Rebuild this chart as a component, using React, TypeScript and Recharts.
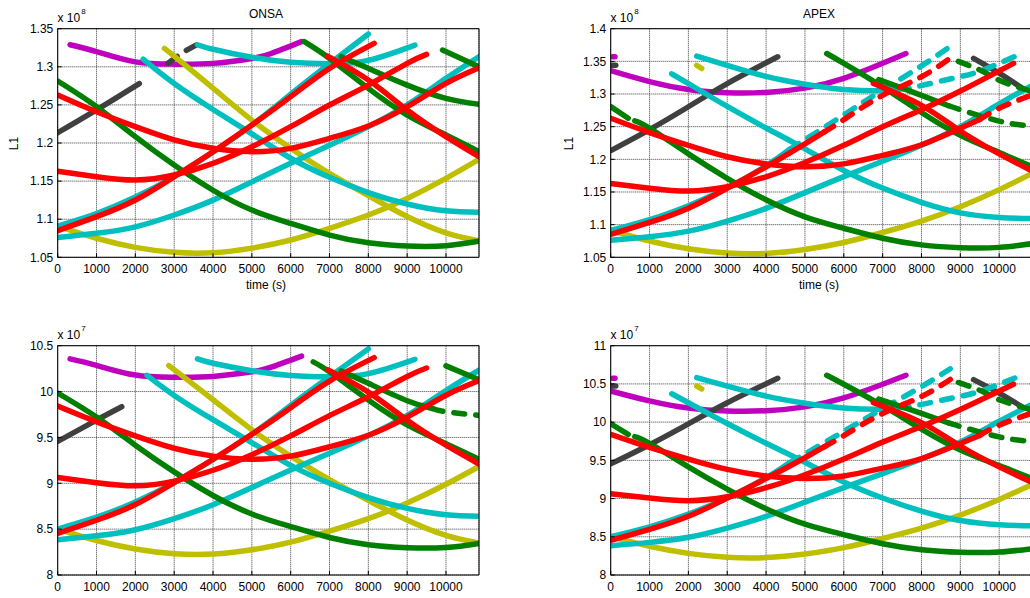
import React from "react"
import { CartesianGrid, Line, LineChart, XAxis, YAxis } from "recharts"

type Pt = [number, number]

const MAGENTA = "#bf00bf"
const GRAY = "#404040"
const CYAN = "#00bfbf"
const YELLOW = "#bfbf00"
const GREEN = "#007f00"
const RED = "#ff0000"

const timeTicks = [0, 1000, 2000, 3000, 4000, 5000, 6000, 7000, 8000, 9000, 10000]
const onsaL1Ticks = [1.05, 1.1, 1.15, 1.2, 1.25, 1.3, 1.35]
const apexL1Ticks = [1.05, 1.1, 1.15, 1.2, 1.25, 1.3, 1.35, 1.4]
const onsaL2Ticks = [8, 8.5, 9, 9.5, 10, 10.5]
const apexL2Ticks = [8, 8.5, 9, 9.5, 10, 10.5, 11]

// ONSA, upper panel (x 1e8)
const onsaL1Magenta: Pt[] = [[320, 1.329], [1000, 1.32], [2000, 1.3065], [3000, 1.3035], [4000, 1.3045], [5000, 1.311], [5500, 1.3175], [6280, 1.333]]
const onsaL1Gray: Pt[] = [[0, 1.2135], [1000, 1.2435], [2100, 1.278]]
const onsaL1GrayDash: Pt[] = [[2850, 1.305], [3200, 1.318], [3580, 1.329]]
const onsaL1CyanTop: Pt[] = [[3600, 1.329], [4000, 1.323], [5000, 1.3125], [6000, 1.306], [7000, 1.304], [8000, 1.3085], [9200, 1.3285]]
const onsaL1CyanDesc: Pt[] = [[2200, 1.31], [3000, 1.278], [4000, 1.244], [5000, 1.212], [6000, 1.18], [7000, 1.155], [8000, 1.135], [9000, 1.12], [10000, 1.111], [10850, 1.109]]
const onsaL1CyanSteep: Pt[] = [[0, 1.091], [1000, 1.1075], [2000, 1.129], [3000, 1.156], [4000, 1.188], [5000, 1.2235], [6000, 1.264], [7000, 1.304], [8000, 1.343]]
const onsaL1CyanLow: Pt[] = [[0, 1.076], [1000, 1.0815], [2000, 1.09], [3000, 1.1055], [4000, 1.125], [5000, 1.149], [6000, 1.1735], [7000, 1.197], [8000, 1.2215], [9000, 1.25], [10000, 1.2848], [10850, 1.3133]]
const onsaL1YellowDesc: Pt[] = [[2750, 1.324], [3000, 1.314], [4000, 1.272], [5000, 1.23], [6000, 1.193], [7000, 1.16], [8000, 1.131], [9000, 1.1035], [10000, 1.082], [10850, 1.0715]]
const onsaL1YellowU: Pt[] = [[0, 1.091], [1000, 1.075], [2000, 1.063], [3000, 1.0565], [4000, 1.056], [5000, 1.062], [6000, 1.0727], [7000, 1.088], [8000, 1.1055], [9000, 1.1273], [10000, 1.1536], [10850, 1.1785]]
const onsaL1GreenA: Pt[] = [[0, 1.2813], [1000, 1.2477], [2000, 1.2083], [3000, 1.171], [4000, 1.138], [5000, 1.112], [6000, 1.0945], [7000, 1.0792], [8000, 1.069], [9000, 1.0648], [10000, 1.0652], [10850, 1.071]]
const onsaL1GreenB: Pt[] = [[6350, 1.333], [7000, 1.311], [8000, 1.2717], [9000, 1.2367], [10000, 1.2105], [10850, 1.1886]]
const onsaL1GreenC: Pt[] = [[7300, 1.3133], [8000, 1.298], [9000, 1.276], [10000, 1.2586], [10850, 1.2507]]
const onsaL1GreenD: Pt[] = [[9910, 1.322], [10850, 1.3]]
const onsaL1RedA: Pt[] = [[0, 1.263], [1000, 1.241], [2000, 1.2214], [3000, 1.204], [4000, 1.193], [5000, 1.1886], [6000, 1.193], [7000, 1.2061], [8000, 1.2223], [9000, 1.2476], [10000, 1.2783], [10850, 1.2988]]
const onsaL1RedB: Pt[] = [[0, 1.163], [1000, 1.1558], [2000, 1.1514], [3000, 1.158], [4000, 1.1733], [5000, 1.1951], [6000, 1.2214], [7000, 1.2498], [8000, 1.276], [9000, 1.3045], [9500, 1.3163]]
const onsaL1RedSteep: Pt[] = [[0, 1.085], [1000, 1.1033], [2000, 1.1252], [3000, 1.1558], [4000, 1.1886], [5000, 1.2236], [6000, 1.2608], [7000, 1.298], [8150, 1.3308]]
const onsaL1RedDesc: Pt[] = [[6950, 1.314], [8000, 1.2826], [9000, 1.2433], [10000, 1.2083], [10850, 1.182]]

// ONSA, lower panel (x 1e7)
const onsaL2Magenta: Pt[] = [[320, 10.356], [1000, 10.285], [2000, 10.18], [3000, 10.157], [4000, 10.165], [5000, 10.215], [5500, 10.266], [6280, 10.387]]
const onsaL2Gray: Pt[] = [[0, 9.456], [1000, 9.689], [1650, 9.835]]
const onsaL2CyanTop: Pt[] = [[3600, 10.356], [4000, 10.309], [5000, 10.227], [6000, 10.176], [7000, 10.161], [8000, 10.196], [9200, 10.352]]
const onsaL2CyanDesc: Pt[] = [[2300, 10.176], [3000, 9.958], [4000, 9.693], [5000, 9.444], [6000, 9.195], [7000, 9.0], [8000, 8.844], [9000, 8.727], [10000, 8.657], [10850, 8.641]]
const onsaL2CyanSteep: Pt[] = [[0, 8.501], [1000, 8.63], [2000, 8.797], [3000, 9.008], [4000, 9.257], [5000, 9.534], [6000, 9.849], [7000, 10.161], [8000, 10.465]]
const onsaL2CyanLow: Pt[] = [[0, 8.384], [1000, 8.427], [2000, 8.493], [3000, 8.614], [4000, 8.766], [5000, 8.953], [6000, 9.144], [7000, 9.327], [8000, 9.518], [9000, 9.74], [10000, 10.011], [10850, 10.233]]
const onsaL2YellowDesc: Pt[] = [[2900, 10.27], [3000, 10.239], [4000, 9.911], [5000, 9.584], [6000, 9.296], [7000, 9.039], [8000, 8.813], [9000, 8.599], [10000, 8.431], [10850, 8.349]]
const onsaL2YellowU: Pt[] = [[0, 8.501], [1000, 8.376], [2000, 8.283], [3000, 8.232], [4000, 8.228], [5000, 8.275], [6000, 8.358], [7000, 8.478], [8000, 8.614], [9000, 8.784], [10000, 8.989], [10850, 9.183]]
const onsaL2GreenA: Pt[] = [[0, 9.984], [1000, 9.722], [2000, 9.415], [3000, 9.124], [4000, 8.867], [5000, 8.665], [6000, 8.528], [7000, 8.409], [8000, 8.33], [9000, 8.297], [10000, 8.3], [10850, 8.345]]
const onsaL2GreenB: Pt[] = [[6580, 10.324], [7000, 10.215], [8000, 9.909], [9000, 9.636], [10000, 9.432], [10850, 9.262]]
const onsaL2GreenC: Pt[] = [[7300, 10.225], [8000, 10.09], [9000, 9.9], [9650, 9.815]]
const onsaL2GreenCDash: Pt[] = [[9650, 9.815], [10000, 9.78], [10850, 9.74]]
const onsaL2GreenD: Pt[] = [[10000, 10.28], [10850, 10.13]]
const onsaL2RedA: Pt[] = [[0, 9.841], [1000, 9.67], [2000, 9.517], [3000, 9.382], [4000, 9.296], [5000, 9.262], [6000, 9.296], [7000, 9.398], [8000, 9.524], [9000, 9.721], [10000, 9.96], [10850, 10.12]]
const onsaL2RedB: Pt[] = [[0, 9.062], [1000, 9.006], [2000, 8.972], [3000, 9.023], [4000, 9.142], [5000, 9.312], [6000, 9.517], [7000, 9.738], [8000, 9.943], [9000, 10.165], [9500, 10.257]]
const onsaL2RedSteep: Pt[] = [[0, 8.454], [1000, 8.597], [2000, 8.768], [3000, 9.006], [4000, 9.262], [5000, 9.534], [6000, 9.824], [7000, 10.114], [8150, 10.37]]
const onsaL2RedDesc: Pt[] = [[6950, 10.239], [8000, 9.994], [9000, 9.688], [10000, 9.415], [10850, 9.21]]

// APEX, upper panel (x 1e8)
const apexL1Magenta: Pt[] = [[0, 1.3357], [1000, 1.319], [2000, 1.307], [3000, 1.302], [4000, 1.3025], [5000, 1.309], [6000, 1.324], [7000, 1.347], [7600, 1.362]]
const apexL1MagentaDot: Pt[] = [[50, 1.357], [110, 1.357]]
const apexL1Gray: Pt[] = [[0, 1.2133], [1000, 1.2455], [2000, 1.2805], [3000, 1.316], [4300, 1.357]]
const apexL1GrayDot: Pt[] = [[0, 1.344], [130, 1.344]]
const apexL1GrayDesc: Pt[] = [[9340, 1.3547], [10000, 1.332], [10590, 1.309]]
const apexL1CyanTop: Pt[] = [[2214, 1.358], [3000, 1.344], [4000, 1.327], [5000, 1.315], [6000, 1.307], [7000, 1.305], [7400, 1.307]]
const apexL1CyanTopDash: Pt[] = [[7400, 1.307], [8000, 1.313], [8800, 1.324], [9500, 1.335], [10500, 1.36]]
const apexL1CyanDesc: Pt[] = [[1571, 1.331], [2000, 1.316], [3000, 1.281], [4000, 1.248], [5000, 1.216], [6000, 1.183], [7000, 1.156], [8000, 1.134], [9000, 1.118], [10000, 1.111], [10850, 1.1095]]
const apexL1CyanSteep: Pt[] = [[0, 1.091], [1000, 1.1075], [2000, 1.129], [3000, 1.156], [4000, 1.19], [4600, 1.215]]
const apexL1CyanSteepDash: Pt[] = [[4600, 1.215], [5000, 1.23], [6000, 1.268], [7000, 1.306], [8000, 1.343], [8740, 1.373]]
const apexL1CyanLow: Pt[] = [[0, 1.076], [1000, 1.0815], [2000, 1.09], [3000, 1.1055], [4000, 1.125], [5000, 1.149], [6000, 1.1735], [7000, 1.197], [8000, 1.2215], [9000, 1.25], [10000, 1.2848], [10850, 1.3133]]
const apexL1YellowU: Pt[] = [[0, 1.091], [1000, 1.075], [2000, 1.063], [3000, 1.0565], [4000, 1.056], [5000, 1.062], [6000, 1.0727], [7000, 1.088], [8000, 1.1055], [9000, 1.1273], [10000, 1.1536], [10850, 1.1785]]
const apexL1YellowDot: Pt[] = [[2214, 1.344], [2343, 1.339]]
const apexL1GreenAStart: Pt[] = [[0, 1.2807], [450, 1.263]]
const apexL1GreenA: Pt[] = [[620, 1.259], [1000, 1.2477], [2000, 1.2083], [3000, 1.171], [4000, 1.138], [5000, 1.112], [6000, 1.0945], [7000, 1.0792], [8000, 1.069], [9000, 1.0648], [10000, 1.0652], [10850, 1.071]]
const apexL1GreenB: Pt[] = [[5560, 1.362], [6000, 1.347], [7000, 1.311], [8000, 1.2717], [9000, 1.2367], [10000, 1.2105], [10850, 1.1886]]
const apexL1GreenC: Pt[] = [[6900, 1.322], [7500, 1.309], [8000, 1.298], [8700, 1.282]]
const apexL1GreenCDash: Pt[] = [[8700, 1.282], [9000, 1.276], [10000, 1.2586], [10850, 1.2507]]
const apexL1GreenDDash: Pt[] = [[8950, 1.35], [9600, 1.334], [10000, 1.321], [10850, 1.3036]]
const apexL1RedA: Pt[] = [[0, 1.263], [1000, 1.241], [2000, 1.2214], [3000, 1.204], [4000, 1.193], [5000, 1.1886], [6000, 1.193], [7000, 1.2061], [8000, 1.2223], [9000, 1.2476], [9500, 1.261]]
const apexL1RedADash: Pt[] = [[9500, 1.261], [10000, 1.2783], [10850, 1.2988]]
const apexL1RedB: Pt[] = [[0, 1.163], [1000, 1.1558], [2000, 1.1514], [3000, 1.158], [4000, 1.1733], [5000, 1.1951], [6000, 1.2214], [7000, 1.2498], [8000, 1.276], [9000, 1.3045], [10370, 1.347]]
const apexL1RedSteep: Pt[] = [[0, 1.085], [1000, 1.1033], [2000, 1.1252], [3000, 1.1558], [4000, 1.1886], [5000, 1.2236], [5500, 1.242]]
const apexL1RedSteepDash: Pt[] = [[5500, 1.242], [6000, 1.2608], [7000, 1.298], [8000, 1.3264], [8900, 1.362]]
const apexL1RedDesc: Pt[] = [[6760, 1.316], [8000, 1.2826], [9000, 1.2433], [10000, 1.2083], [10850, 1.182]]

// APEX, lower panel (x 1e7)
const apexL2Magenta: Pt[] = [[0, 10.408], [1000, 10.278], [2000, 10.184], [3000, 10.145], [4000, 10.149], [5000, 10.2], [6000, 10.317], [7000, 10.496], [7600, 10.613]]
const apexL2MagentaDot: Pt[] = [[50, 10.574], [110, 10.574]]
const apexL2Gray: Pt[] = [[0, 9.454], [1000, 9.705], [2000, 9.978], [3000, 10.254], [4300, 10.574]]
const apexL2GrayDot: Pt[] = [[0, 10.472], [130, 10.472]]
const apexL2GrayDesc: Pt[] = [[9340, 10.556], [10000, 10.379], [10590, 10.2]]
const apexL2CyanTop: Pt[] = [[2214, 10.582], [3000, 10.472], [4000, 10.34], [5000, 10.247], [6000, 10.184], [7000, 10.169], [7400, 10.184]]
const apexL2CyanTopDash: Pt[] = [[7400, 10.184], [8000, 10.231], [8800, 10.317], [9500, 10.402], [10500, 10.597]]
const apexL2CyanDesc: Pt[] = [[1571, 10.371], [2000, 10.254], [3000, 9.982], [4000, 9.724], [5000, 9.475], [6000, 9.218], [7000, 9.008], [8000, 8.836], [9000, 8.712], [10000, 8.657], [10850, 8.645]]
const apexL2CyanSteep: Pt[] = [[0, 8.501], [1000, 8.63], [2000, 8.797], [3000, 9.008], [4000, 9.272], [4600, 9.467]]
const apexL2CyanSteepDash: Pt[] = [[4600, 9.467], [5000, 9.584], [6000, 9.88], [7000, 10.176], [8000, 10.465], [8740, 10.698]]
const apexL2CyanLow: Pt[] = [[0, 8.384], [1000, 8.427], [2000, 8.493], [3000, 8.614], [4000, 8.766], [5000, 8.953], [6000, 9.144], [7000, 9.327], [8000, 9.518], [9000, 9.74], [10000, 10.011], [10850, 10.233]]
const apexL2YellowU: Pt[] = [[0, 8.501], [1000, 8.376], [2000, 8.283], [3000, 8.232], [4000, 8.228], [5000, 8.275], [6000, 8.358], [7000, 8.478], [8000, 8.614], [9000, 8.784], [10000, 8.989], [10850, 9.183]]
const apexL2YellowDot: Pt[] = [[2214, 10.472], [2343, 10.434]]
const apexL2GreenAStart: Pt[] = [[0, 9.979], [450, 9.841]]
const apexL2GreenA: Pt[] = [[620, 9.81], [1000, 9.722], [2000, 9.415], [3000, 9.124], [4000, 8.867], [5000, 8.665], [6000, 8.528], [7000, 8.409], [8000, 8.33], [9000, 8.297], [10000, 8.3], [10850, 8.345]]
const apexL2GreenB: Pt[] = [[5560, 10.613], [6000, 10.496], [7000, 10.215], [8000, 9.909], [9000, 9.636], [10000, 9.432], [10850, 9.262]]
const apexL2GreenC: Pt[] = [[6900, 10.301], [7500, 10.2], [8000, 10.114], [8700, 9.989]]
const apexL2GreenCDash: Pt[] = [[8700, 9.989], [9000, 9.943], [10000, 9.807], [10850, 9.746]]
const apexL2GreenDDash: Pt[] = [[8950, 10.519], [9600, 10.395], [10000, 10.293], [10850, 10.158]]
const apexL2RedA: Pt[] = [[0, 9.841], [1000, 9.67], [2000, 9.517], [3000, 9.382], [4000, 9.296], [5000, 9.262], [6000, 9.296], [7000, 9.398], [8000, 9.524], [9000, 9.721], [9500, 9.826]]
const apexL2RedADash: Pt[] = [[9500, 9.826], [10000, 9.96], [10850, 10.12]]
const apexL2RedB: Pt[] = [[0, 9.062], [1000, 9.006], [2000, 8.972], [3000, 9.023], [4000, 9.142], [5000, 9.312], [6000, 9.517], [7000, 9.738], [8000, 9.943], [9000, 10.165], [10370, 10.496]]
const apexL2RedSteep: Pt[] = [[0, 8.454], [1000, 8.597], [2000, 8.768], [3000, 9.006], [4000, 9.262], [5000, 9.534], [5500, 9.678]]
const apexL2RedSteepDash: Pt[] = [[5500, 9.678], [6000, 9.824], [7000, 10.114], [8000, 10.335], [8900, 10.613]]
const apexL2RedDesc: Pt[] = [[6760, 10.254], [8000, 9.994], [9000, 9.688], [10000, 9.415], [10850, 9.21]]

interface Series {
  data: Pt[]
  color: string
  dashed?: boolean
}

const onsaL1Series: Series[] = [
  { data: onsaL1Magenta, color: MAGENTA },
  { data: onsaL1Gray, color: GRAY },
  { data: onsaL1GrayDash, color: GRAY, dashed: true },
  { data: onsaL1YellowDesc, color: YELLOW },
  { data: onsaL1YellowU, color: YELLOW },
  { data: onsaL1CyanTop, color: CYAN },
  { data: onsaL1CyanDesc, color: CYAN },
  { data: onsaL1CyanSteep, color: CYAN },
  { data: onsaL1CyanLow, color: CYAN },
  { data: onsaL1GreenA, color: GREEN },
  { data: onsaL1GreenB, color: GREEN },
  { data: onsaL1GreenC, color: GREEN },
  { data: onsaL1GreenD, color: GREEN },
  { data: onsaL1RedA, color: RED },
  { data: onsaL1RedB, color: RED },
  { data: onsaL1RedSteep, color: RED },
  { data: onsaL1RedDesc, color: RED },
]

const onsaL2Series: Series[] = [
  { data: onsaL2Magenta, color: MAGENTA },
  { data: onsaL2Gray, color: GRAY },
  { data: onsaL2YellowDesc, color: YELLOW },
  { data: onsaL2YellowU, color: YELLOW },
  { data: onsaL2CyanTop, color: CYAN },
  { data: onsaL2CyanDesc, color: CYAN },
  { data: onsaL2CyanSteep, color: CYAN },
  { data: onsaL2CyanLow, color: CYAN },
  { data: onsaL2GreenA, color: GREEN },
  { data: onsaL2GreenB, color: GREEN },
  { data: onsaL2GreenC, color: GREEN },
  { data: onsaL2GreenCDash, color: GREEN, dashed: true },
  { data: onsaL2GreenD, color: GREEN },
  { data: onsaL2RedA, color: RED },
  { data: onsaL2RedB, color: RED },
  { data: onsaL2RedSteep, color: RED },
  { data: onsaL2RedDesc, color: RED },
]

const apexL1Series: Series[] = [
  { data: apexL1Magenta, color: MAGENTA },
  { data: apexL1MagentaDot, color: MAGENTA },
  { data: apexL1Gray, color: GRAY },
  { data: apexL1GrayDot, color: GRAY },
  { data: apexL1GrayDesc, color: GRAY },
  { data: apexL1YellowU, color: YELLOW },
  { data: apexL1YellowDot, color: YELLOW },
  { data: apexL1CyanTop, color: CYAN },
  { data: apexL1CyanTopDash, color: CYAN, dashed: true },
  { data: apexL1CyanDesc, color: CYAN },
  { data: apexL1CyanSteep, color: CYAN },
  { data: apexL1CyanSteepDash, color: CYAN, dashed: true },
  { data: apexL1CyanLow, color: CYAN },
  { data: apexL1GreenAStart, color: GREEN },
  { data: apexL1GreenA, color: GREEN },
  { data: apexL1GreenB, color: GREEN },
  { data: apexL1GreenC, color: GREEN },
  { data: apexL1GreenCDash, color: GREEN, dashed: true },
  { data: apexL1GreenDDash, color: GREEN, dashed: true },
  { data: apexL1RedA, color: RED },
  { data: apexL1RedADash, color: RED, dashed: true },
  { data: apexL1RedB, color: RED },
  { data: apexL1RedSteep, color: RED },
  { data: apexL1RedSteepDash, color: RED, dashed: true },
  { data: apexL1RedDesc, color: RED },
]

const apexL2Series: Series[] = [
  { data: apexL2Magenta, color: MAGENTA },
  { data: apexL2MagentaDot, color: MAGENTA },
  { data: apexL2Gray, color: GRAY },
  { data: apexL2GrayDot, color: GRAY },
  { data: apexL2GrayDesc, color: GRAY },
  { data: apexL2YellowU, color: YELLOW },
  { data: apexL2YellowDot, color: YELLOW },
  { data: apexL2CyanTop, color: CYAN },
  { data: apexL2CyanTopDash, color: CYAN, dashed: true },
  { data: apexL2CyanDesc, color: CYAN },
  { data: apexL2CyanSteep, color: CYAN },
  { data: apexL2CyanSteepDash, color: CYAN, dashed: true },
  { data: apexL2CyanLow, color: CYAN },
  { data: apexL2GreenAStart, color: GREEN },
  { data: apexL2GreenA, color: GREEN },
  { data: apexL2GreenB, color: GREEN },
  { data: apexL2GreenC, color: GREEN },
  { data: apexL2GreenCDash, color: GREEN, dashed: true },
  { data: apexL2GreenDDash, color: GREEN, dashed: true },
  { data: apexL2RedA, color: RED },
  { data: apexL2RedADash, color: RED, dashed: true },
  { data: apexL2RedB, color: RED },
  { data: apexL2RedSteep, color: RED },
  { data: apexL2RedSteepDash, color: RED, dashed: true },
  { data: apexL2RedDesc, color: RED },
]

const T_MAX = 10850
const black = { stroke: "#000" }

interface PanelProps {
  left: number
  top: number
  width: number
  height: number
  margin: { top: number; right: number; bottom: number; left: number }
  yTicks: number[]
  series: Series[]
}

function Panel({ left, top, width, height, margin, yTicks, series }: PanelProps) {
  const yDomain = [yTicks[0], yTicks[yTicks.length - 1]]
  return (
    <div style={{ position: "absolute", left, top }}>
      <LineChart width={width} height={height} margin={margin}>
        <CartesianGrid stroke="#3a3a3a" strokeDasharray="1 1" />
        {series.map((s, i) => (
          <Line
            key={i}
            data={s.data.map(([t, v]) => ({ t, v }))}
            dataKey="v"
            type="natural"
            stroke={s.color}
            strokeWidth={5.5}
            strokeLinecap="round"
            strokeLinejoin="round"
            strokeDasharray={s.dashed ? "11 11" : undefined}
            dot={false}
            activeDot={false}
            isAnimationActive={false}
          />
        ))}
        <XAxis
          dataKey="t"
          type="number"
          domain={[0, T_MAX]}
          ticks={timeTicks}
          interval={0}
          allowDataOverflow
          height={20}
          tickSize={-4}
          tickMargin={11.2}
          axisLine={black}
          tickLine={black}
          tick={{ fill: "#000", fontSize: 12 }}
        />
        <XAxis
          xAxisId="top"
          orientation="top"
          type="number"
          domain={[0, T_MAX]}
          ticks={timeTicks}
          interval={0}
          allowDataOverflow
          height={1}
          tickSize={-4}
          axisLine={black}
          tickLine={black}
          tick={false}
        />
        <YAxis
          type="number"
          domain={yDomain}
          ticks={yTicks}
          interval={0}
          allowDataOverflow
          width={40}
          tickSize={-4}
          tickMargin={8.4}
          axisLine={black}
          tickLine={black}
          tick={{ fill: "#000", fontSize: 12 }}
        />
        <YAxis
          yAxisId="right"
          orientation="right"
          type="number"
          domain={yDomain}
          ticks={yTicks}
          interval={0}
          allowDataOverflow
          width={1}
          tickSize={-4}
          axisLine={black}
          tickLine={black}
          tick={false}
        />
      </LineChart>
    </div>
  )
}

function Exponent({ x, y, power }: { x: number; y: number; power: string }) {
  return (
    <text x={x} y={y} fontSize={12}>
      x 10
      <tspan dx={1} dy={-8} fontSize={8}>
        {power}
      </tspan>
    </text>
  )
}

export default function App() {
  return (
    <div
      style={{
        position: "absolute",
        left: 0,
        top: 0,
        width: 1030,
        height: 598,
        overflow: "hidden",
        background: "#fff",
        fontFamily: '"Liberation Sans", Arial, sans-serif',
      }}
    >
      <Panel left={0} top={0} width={490} height={300} margin={{ top: 27.7, right: 10, bottom: 22.7, left: 17.7 }} yTicks={onsaL1Ticks} series={onsaL1Series} />
      <Panel left={515} top={0} width={520} height={300} margin={{ top: 27.7, right: 1.8, bottom: 22.7, left: 55.7 }} yTicks={apexL1Ticks} series={apexL1Series} />
      <Panel left={0} top={300} width={490} height={298} margin={{ top: 44.7, right: 10, bottom: 3, left: 17.7 }} yTicks={onsaL2Ticks} series={onsaL2Series} />
      <Panel left={515} top={300} width={520} height={298} margin={{ top: 44.7, right: 1.8, bottom: 3, left: 55.7 }} yTicks={apexL2Ticks} series={apexL2Series} />

      <svg width={1030} height={598} style={{ position: "absolute", left: 0, top: 0, pointerEvents: "none" }}>
        <g fill="#000" fontFamily='"Liberation Sans", Arial, sans-serif'>
          <text x={266} y={18} fontSize={12} textAnchor="middle">ONSA</text>
          <text x={819} y={18} fontSize={12} textAnchor="middle">APEX</text>
          <Exponent x={57.5} y={21.5} power="8" />
          <Exponent x={610.5} y={21.5} power="8" />
          <Exponent x={57.5} y={339.3} power="7" />
          <Exponent x={610.5} y={339.3} power="7" />
          <text x={18} y={143.5} fontSize={12} textAnchor="middle" transform="rotate(-90 18 143.5)">L1</text>
          <text x={572.5} y={143.5} fontSize={12} textAnchor="middle" transform="rotate(-90 572.5 143.5)">L1</text>
          <text x={266} y={288.5} fontSize={12} textAnchor="middle">time (s)</text>
          <text x={819} y={288.5} fontSize={12} textAnchor="middle">time (s)</text>
        </g>
      </svg>
    </div>
  )
}
